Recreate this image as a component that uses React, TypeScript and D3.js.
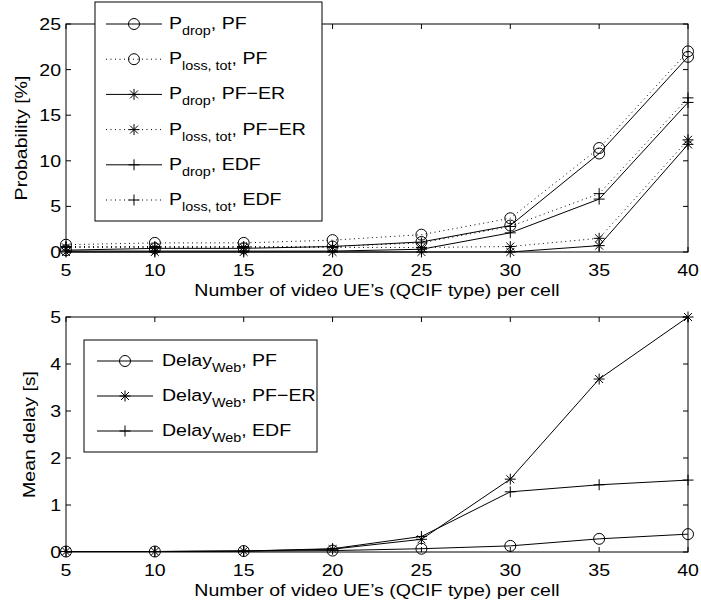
import React from 'react'
import * as d3 from 'd3'

// number of video UEs per cell
const users = [5, 10, 15, 20, 25, 30, 35, 40]

// top panel, probabilities in %
const pDropPF = [0.2, 0.4, 0.4, 0.6, 1.1, 2.9, 10.8, 21.4]
const pLossPF = [0.8, 1.0, 1.0, 1.3, 1.9, 3.7, 11.4, 22.0]
const pDropPFER = [0, 0, 0, 0, 0, 0, 0.7, 11.8]
const pLossPFER = [0.5, 0.5, 0.5, 0.5, 0.5, 0.6, 1.5, 12.3]
const pDropEDF = [0.1, 0.1, 0.1, 0.1, 0.3, 2.1, 5.8, 16.4]
const pLossEDF = [0.6, 0.6, 0.6, 0.6, 1.0, 2.8, 6.4, 16.9]

// bottom panel, mean web delay in s
const delayPF = [0.01, 0.01, 0.02, 0.03, 0.07, 0.13, 0.28, 0.38]
const delayPFER = [0.01, 0.01, 0.02, 0.06, 0.27, 1.55, 3.68, 5.0]
const delayEDF = [0.01, 0.01, 0.02, 0.07, 0.33, 1.28, 1.43, 1.53]

const probTicks = [0, 5, 10, 15, 20, 25]
const delayTicks = [0, 1, 2, 3, 4, 5]

const FONT = '"Liberation Sans", Arial, Helvetica, sans-serif'
const W = 701
const H = 606
const left = 66
const right = 688
// the exported figure uses a wider helvetica than ours
const STRETCH = 1.15

type Marker = 'o' | '*' | '+'

function T({ x, y, anchor, rot, children }: any) {
  return (
    <text transform={`translate(${x},${y})${rot ? ` rotate(${rot})` : ''} scale(${STRETCH},1)`}
      textAnchor={anchor || 'start'} fontFamily={FONT} fontSize={17}>
      {children}
    </text>
  )
}

function MarkerShape({ type, x, y }: { type: Marker; x: number; y: number }) {
  if (type === 'o') return <circle cx={x} cy={y} r={5.5} fill="none" stroke="#000" strokeWidth={1} />
  const s = 5.5
  const d = s * 0.72
  return (
    <g stroke="#000" strokeWidth={1} fill="none">
      <line x1={x - s} y1={y} x2={x + s} y2={y} />
      <line x1={x} y1={y - s} x2={x} y2={y + s} />
      {type === '*' && <line x1={x - d} y1={y - d} x2={x + d} y2={y + d} />}
      {type === '*' && <line x1={x - d} y1={y + d} x2={x + d} y2={y - d} />}
    </g>
  )
}

type Series = { values: number[]; marker: Marker; dotted: boolean; label: string; sub: string; tail: string }

function Legend({ x, y, w, h, items, lineX0, lineX1, textX, rowY0, rowStep }: any) {
  return (
    <g>
      <rect x={x} y={y} width={w} height={h} fill="#fff" stroke="#000" strokeWidth={1} />
      {items.map((s: Series, i: number) => {
        const cy = rowY0 + i * rowStep
        return (
          <g key={i}>
            <line x1={lineX0} x2={lineX1} y1={cy} y2={cy} stroke="#000" strokeWidth={1}
              strokeDasharray={s.dotted ? '1,3.5' : undefined} />
            <MarkerShape type={s.marker} x={(lineX0 + lineX1) / 2} y={cy} />
            <T x={textX} y={cy + 5}>
              <tspan>{s.label}</tspan>
              <tspan dy={6} fontSize={12.5}>{s.sub}</tspan>
              <tspan dy={-6}>{s.tail}</tspan>
            </T>
          </g>
        )
      })}
    </g>
  )
}

function Panel({ top, bottom, yMax, yTicks, ylabel, ylabelX, series }: any) {
  const x = d3.scaleLinear().domain([5, 40]).range([left, right])
  const y = d3.scaleLinear().domain([0, yMax]).range([bottom, top])
  const line = d3.line<number>().x((_, i) => x(users[i])).y(v => y(v))
  const tl = 5
  return (
    <g>
      {series.map((s: Series, k: number) => (
        <g key={k}>
          <path d={line(s.values) || ''} fill="none" stroke="#000" strokeWidth={1}
            strokeDasharray={s.dotted ? '1,3.5' : undefined} />
          {s.values.map((v, i) => <MarkerShape key={i} type={s.marker} x={x(users[i])} y={y(v)} />)}
        </g>
      ))}
      <rect x={left} y={top} width={right - left} height={bottom - top} fill="none" stroke="#000" strokeWidth={1} />
      {users.map(u => (
        <g key={u}>
          <line x1={x(u)} x2={x(u)} y1={bottom} y2={bottom - tl} stroke="#000" />
          <line x1={x(u)} x2={x(u)} y1={top} y2={top + tl} stroke="#000" />
          <T x={x(u)} y={bottom + 24} anchor="middle">{u}</T>
        </g>
      ))}
      {yTicks.map((t: number) => (
        <g key={t}>
          <line x1={left} x2={left + tl} y1={y(t)} y2={y(t)} stroke="#000" />
          <line x1={right} x2={right - tl} y1={y(t)} y2={y(t)} stroke="#000" />
          <T x={left - 5} y={y(t) + 6} anchor="end">{t}</T>
        </g>
      ))}
      <T x={(left + right) / 2} y={bottom + 44} anchor="middle">Number of video UE’s (QCIF type) per cell</T>
      <T x={ylabelX} y={(top + bottom) / 2} anchor="middle" rot={-90}>{ylabel}</T>
    </g>
  )
}

export default function App() {
  const topSeries: Series[] = [
    { values: pDropPF, marker: 'o', dotted: false, label: 'P', sub: 'drop', tail: ', PF' },
    { values: pLossPF, marker: 'o', dotted: true, label: 'P', sub: 'loss, tot', tail: ', PF' },
    { values: pDropPFER, marker: '*', dotted: false, label: 'P', sub: 'drop', tail: ', PF−ER' },
    { values: pLossPFER, marker: '*', dotted: true, label: 'P', sub: 'loss, tot', tail: ', PF−ER' },
    { values: pDropEDF, marker: '+', dotted: false, label: 'P', sub: 'drop', tail: ', EDF' },
    { values: pLossEDF, marker: '+', dotted: true, label: 'P', sub: 'loss, tot', tail: ', EDF' },
  ]
  const bottomSeries: Series[] = [
    { values: delayPF, marker: 'o', dotted: false, label: 'Delay', sub: 'Web', tail: ', PF' },
    { values: delayPFER, marker: '*', dotted: false, label: 'Delay', sub: 'Web', tail: ', PF−ER' },
    { values: delayEDF, marker: '+', dotted: false, label: 'Delay', sub: 'Web', tail: ', EDF' },
  ]
  return (
    <svg width={W} height={H} style={{ position: 'absolute', left: 0, top: 0, background: '#fff' }}>
      <rect width={W} height={H} fill="#fff" />
      <Panel top={24} bottom={252} yMax={25} yTicks={probTicks} ylabel="Probability [%]" ylabelX={27} series={topSeries} />
      <Panel top={317} bottom={552} yMax={5} yTicks={delayTicks} ylabel="Mean delay [s]" ylabelX={35} series={bottomSeries} />
      <Legend x={95} y={2} w={227} h={219} items={topSeries} lineX0={106} lineX1={162} textX={169} rowY0={24} rowStep={35.2} />
      <Legend x={84} y={340} w={233} h={112} items={bottomSeries} lineX0={97} lineX1={153} textX={162} rowY0={361} rowStep={35} />
    </svg>
  )
}
